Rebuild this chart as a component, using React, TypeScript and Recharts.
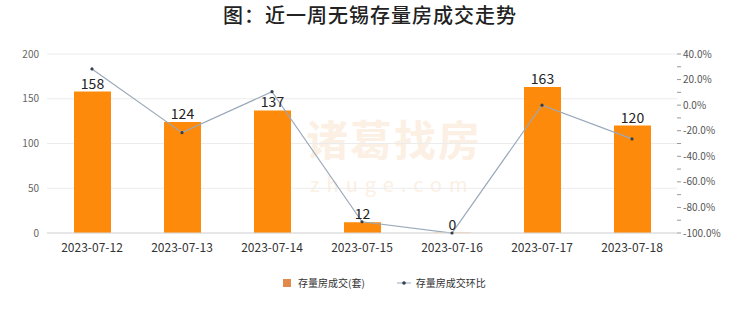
import React from "react";
import {
  Bar,
  CartesianGrid,
  ComposedChart,
  LabelList,
  Line,
  XAxis,
  YAxis,
} from "recharts";

const DATES = [
  "2023-07-12",
  "2023-07-13",
  "2023-07-14",
  "2023-07-15",
  "2023-07-16",
  "2023-07-17",
  "2023-07-18",
];
const DEALS = [158, 124, 137, 12, 0, 163, 120];
const RATIO = [28.3, -21.5, 10.5, -91.2, -100, 0, -26.4];
const LEFT_TICKS = [0, 50, 100, 150, 200];
const RIGHT_TICKS = [40, 30, 20, 10, 0, -10, -20, -30, -40, -50, -60, -70, -80, -90, -100];

const BAR_COLOR = "#fd8a0a";
const LINE_COLOR = "#9aa9ba";
const FONT = '"Noto Sans CJK SC", "Noto Sans", sans-serif';

const data = DATES.map((d, i) => ({ date: d, deals: DEALS[i], ratio: RATIO[i] }));

export default function App() {
  return (
    <div
      style={{
        position: "fixed",
        left: 0,
        top: 0,
        width: 740,
        height: 312,
        background: "#fff",
        fontFamily: FONT,
        overflow: "hidden",
      }}
    >
      <div
        style={{
          position: "absolute",
          left: 0,
          top: 0,
          width: 740,
          textAlign: "center",
          fontSize: 20,
          fontWeight: 500,
          color: "#222",
          letterSpacing: 1,
        }}
      >
        图：近一周无锡存量房成交走势
      </div>

      {/* watermark */}
      <div
        style={{
          position: "absolute",
          left: 306,
          top: 116,
          fontSize: 42,
          fontWeight: 700,
          lineHeight: "44px",
          color: "#fcefe3",
          letterSpacing: 2,
        }}
      >
        诸葛找房
      </div>
      <div
        style={{
          position: "absolute",
          left: 310,
          top: 174,
          fontSize: 20,
          lineHeight: "20px",
          color: "#fcefe3",
          letterSpacing: 7,
        }}
      >
        zhuge.com
      </div>

      <div style={{ position: "absolute", left: 0, top: 0 }}>
        <ComposedChart
          width={740}
          height={312}
          data={data}
          margin={{ top: 54, right: 0, bottom: 49, left: 0 }}
        >
          <CartesianGrid yAxisId="left" vertical={false} stroke="#ececec" />
          <XAxis
            dataKey="date"
            axisLine={{ stroke: "#d8d8d8" }}
            tickLine={false}
            height={30}
            tick={{ fontSize: 12, fill: "#333", fontFamily: FONT }}
            tickMargin={4}
            interval={0}
          />
          <YAxis
            yAxisId="left"
            width={47}
            domain={[0, 200]}
            ticks={LEFT_TICKS}
            axisLine={false}
            tickLine={false}
            tick={{ fontSize: 10, fill: "#666", fontFamily: FONT }}
          />
          <YAxis
            yAxisId="right"
            orientation="right"
            width={63}
            domain={[-100, 40]}
            ticks={RIGHT_TICKS}
            interval={0}
            axisLine={false}
            tickSize={4}
            tickLine={{ stroke: "#999" }}
            tick={{ fontSize: 10, fill: "#555", fontFamily: FONT }}
            tickFormatter={(v: number) => (v % 20 === 0 ? `${v.toFixed(1)}%` : "")}
          />
          <Bar
            yAxisId="left"
            dataKey="deals"
            fill={BAR_COLOR}
            barSize={37}
            minPointSize={(v: number) => (v === 0 ? 0.2 : 0)}
            isAnimationActive={false}
          >
            <LabelList
              dataKey="deals"
              position="top"
              offset={3}
              style={{ fontSize: 14, fill: "#222", fontFamily: FONT }}
            />
          </Bar>
          <Line
            yAxisId="right"
            type="linear"
            dataKey="ratio"
            stroke={LINE_COLOR}
            strokeWidth={1.2}
            dot={{ r: 1.6, fill: "#34404f", stroke: "#34404f", strokeWidth: 0 }}
            activeDot={false}
            isAnimationActive={false}
          />
        </ComposedChart>
      </div>

      {/* legend */}
      <div
        style={{
          position: "absolute",
          left: 283,
          top: 275,
          display: "flex",
          alignItems: "center",
          fontSize: 10,
          color: "#333",
        }}
      >
        <span
          style={{
            display: "inline-block",
            width: 8,
            height: 8,
            background: "#e0894a",
            marginRight: 7,
          }}
        />
        <span>存量房成交(套)</span>
        <svg width={14} height={10} style={{ marginLeft: 32, marginRight: 5 }}>
          <line x1={0} y1={5} x2={14} y2={5} stroke={LINE_COLOR} strokeWidth={1} />
          <circle cx={7} cy={5} r={1.8} fill="#34404f" />
        </svg>
        <span>存量房成交环比</span>
      </div>
    </div>
  );
}
